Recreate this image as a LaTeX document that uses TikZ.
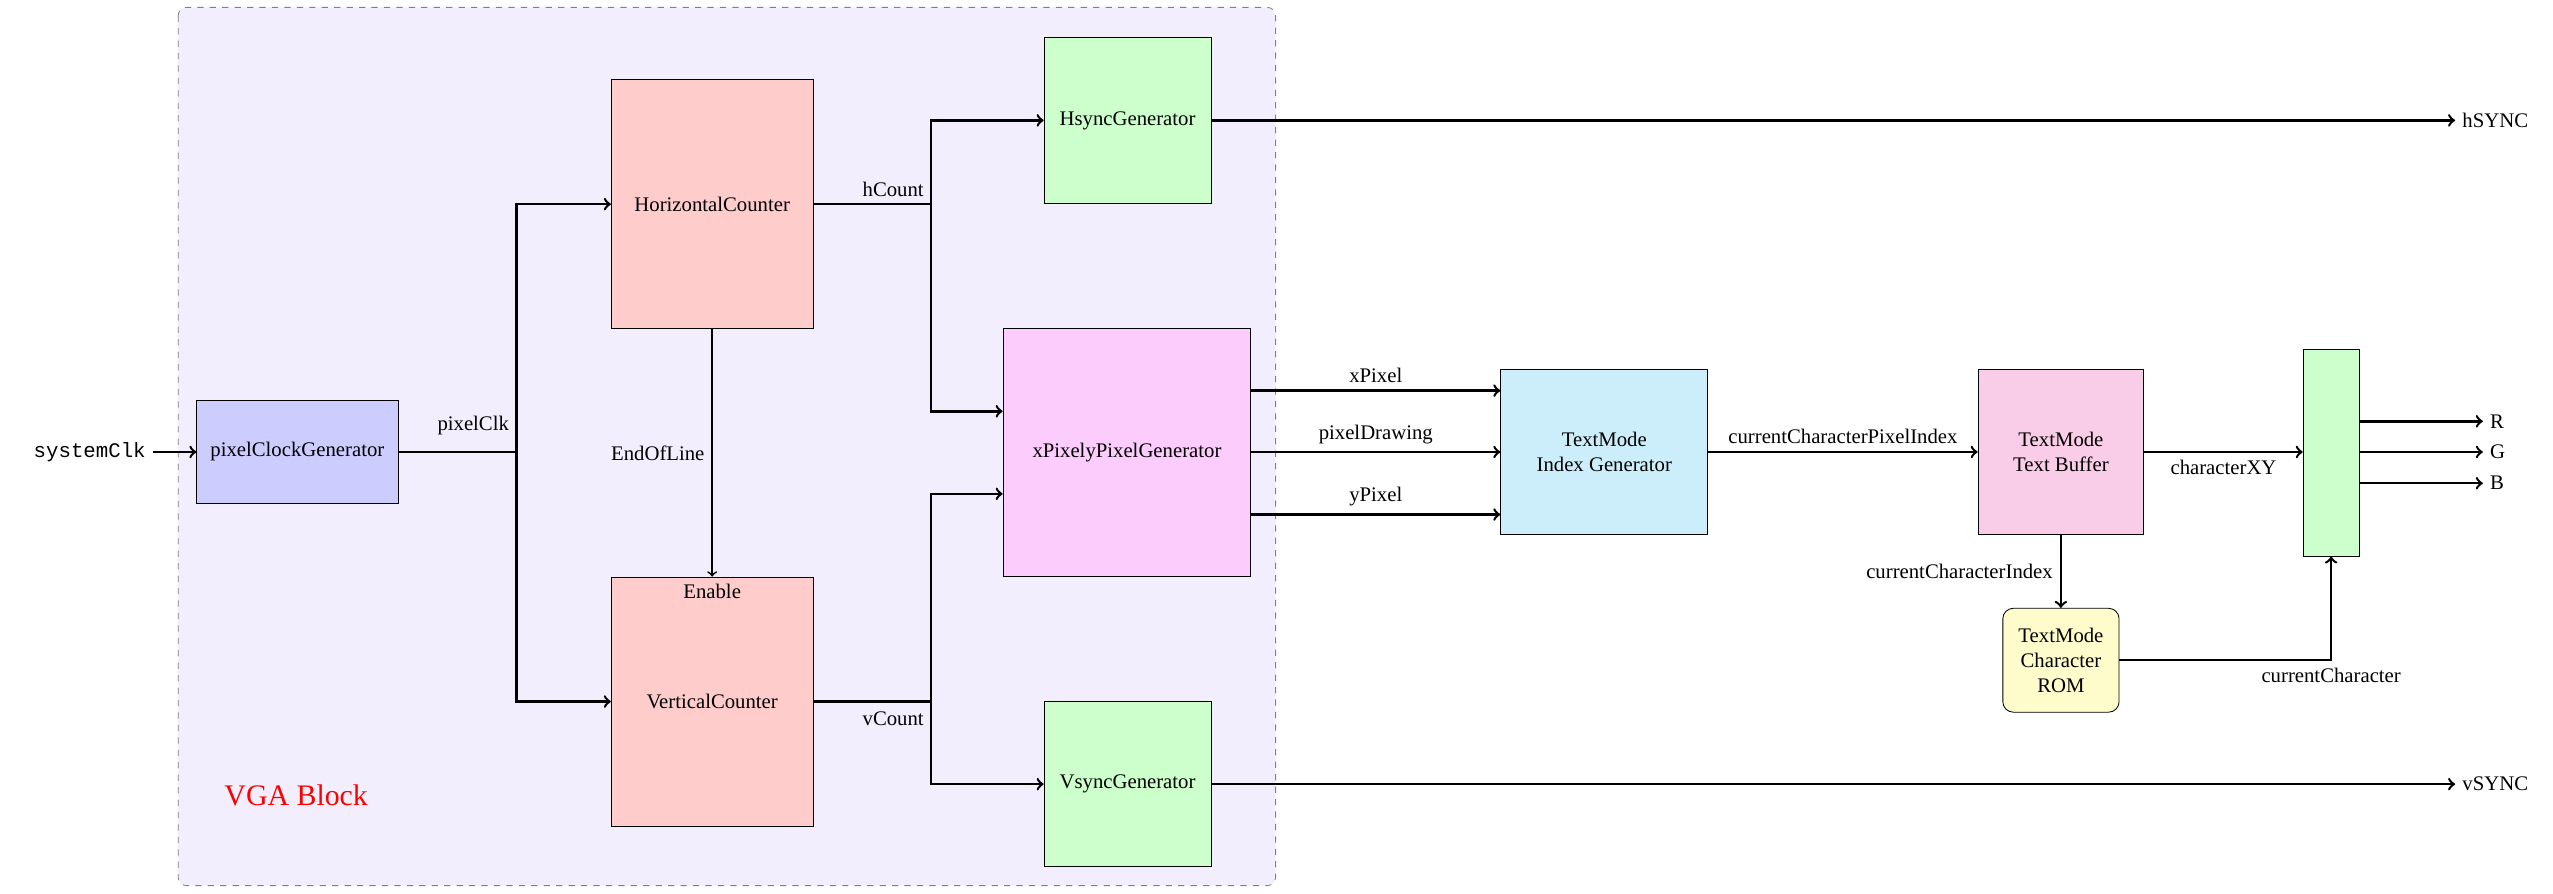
\documentclass[tikz,border=0pt]{standalone}
\usepackage{fontspec}
\setmainfont{Liberation Serif}
\setmonofont{Liberation Mono}

\definecolor{vgaback}{RGB}{242,238,253}
\definecolor{idxblue}{RGB}{204,238,250}
\definecolor{bufpink}{RGB}{249,204,232}
\definecolor{pixmagenta}{RGB}{252,204,252}
\definecolor{romyellow}{RGB}{255,252,204}

\begin{document}
\begin{tikzpicture}[
            block/.style={draw, align=center},
            sig/.style={very thick, ->}
        ]
            \useasboundingbox (0,0) rectangle (43.27,-15.14);
            \fill [vgaback, rounded corners=4pt] (3.02,-0.125) rectangle (21.62,-15.01);
            \draw [gray, dashed, rounded corners=4pt] (3.02,-0.125) rectangle (21.62,-15.01);
            \node [red] (vgaLabel) at (5.02,-13.48) {\Large VGA Block};
            
            \node (sysClk) at (1.52,-7.66) {\ttfamily systemClk};
            \node [block, fill=blue!20, minimum width=3.41cm, minimum height=1.75cm] (pgen) at (5.04,-7.66) {pixelClockGenerator};
            \node [block, fill=red!20, minimum width=3.42cm, minimum height=4.22cm] (hc) at (12.07,-3.46) {HorizontalCounter};
            \node [block, fill=red!20, minimum width=3.42cm, minimum height=4.22cm] (vc) at (12.07,-11.89) {VerticalCounter};
            \node [block, fill=green!20, minimum width=2.83cm, minimum height=2.8cm] (hsync) at (19.11,-2.04) {HsyncGenerator};
            \node [block, fill=green!20, minimum width=2.83cm, minimum height=2.8cm] (vsync) at (19.11,-13.29) {VsyncGenerator};
            \node [block, fill=pixmagenta, minimum width=4.2cm, minimum height=4.2cm] (xpix) at (19.10,-7.67) {xPixelyPixelGenerator};
            \node [block, fill=idxblue, minimum width=3.51cm, minimum height=2.81cm] (idx) at (27.19,-7.66) {TextMode\\Index Generator};
            \node [block, fill=bufpink, minimum width=2.81cm, minimum height=2.81cm] (buf) at (34.93,-7.66) {TextMode\\Text Buffer};
            \node [block, fill=green!20, minimum width=0.95cm, minimum height=3.51cm] (mux) at (39.51,-7.67) {};
            \node [block, fill=romyellow, rounded corners=5pt, minimum width=1.97cm, minimum height=1.76cm] (rom) at (34.93,-11.19) {TextMode\\Character\\ROM};
            
            \node [right] (hsyncOut) at (41.61,-2.04) {hSYNC};
            \node [right] (vsyncOut) at (41.61,-13.29) {vSYNC};
            \node [right] (rOut) at (42.08,-7.14) {R};
            \node [right] (gOut) at (42.08,-7.66) {G};
            \node [right] (bOut) at (42.08,-8.19) {B};
            
            \coordinate (pj) at (8.75,-7.66);
            \coordinate (hj) at (15.78,-3.46);
            \coordinate (vj) at (15.78,-11.89);
            
            % clock
            \draw [sig] (sysClk) -- (pgen);
            \draw [sig] (pgen.east) -- (pj) |- (hc.west);
            \draw [sig] (pj) |- (vc.west);
            \node [above left, yshift=0.17cm] (lpclk) at (pj) {pixelClk};
            
            % counters
            \draw [thick, ->] (hc) -- (vc) node [midway, left] (leol) {EndOfLine};
            \node [below] (lenable) at (vc.north) {Enable};
            \draw [sig] (hc.east) -- (hj) |- (hsync.west);
            \draw [sig] (hj) |- ([yshift=0.7cm]xpix.west);
            \node [above left] (lhcount) at (hj) {hCount};
            \draw [sig] (vc.east) -- (vj) |- (vsync.west);
            \draw [sig] (vj) |- ([yshift=-0.7cm]xpix.west);
            \node [below left, yshift=-0.05cm] (lvcount) at (vj) {vCount};
            
            % sync outputs
            \draw [sig] (hsync.east) -- (hsyncOut);
            \draw [sig] (vsync.east) -- (vsyncOut);
            
            % text mode
            \draw [sig] ([yshift=1.04cm]xpix.east |- idx.west) -- ([yshift=1.04cm]idx.west) node [midway, above] (lxpixel) {xPixel};
            \draw [sig] (xpix.east |- idx.west) -- (idx.west) node [midway, above] (ldraw) {pixelDrawing};
            \draw [sig] ([yshift=-1.06cm]xpix.east |- idx.west) -- ([yshift=-1.06cm]idx.west) node [midway, above] (lypixel) {yPixel};
            \draw [sig] (idx.east) -- (buf.west) node [midway, above] (lcpi) {currentCharacterPixelIndex};
            \draw [sig] (buf.east) -- (buf.east -| mux.west) node [midway, below] (lcxy) {characterXY};
            \draw [sig] (buf) -- (rom) node [midway, left] (lcci) {currentCharacterIndex};
            \draw [sig] (rom.east) -| (mux.south) node [pos=0.5, below] (lcc) {currentCharacter};
            
            \draw [sig] (mux.east |- rOut) -- (rOut);
            \draw [sig] (mux.east |- gOut) -- (gOut);
            \draw [sig] (mux.east |- bOut) -- (bOut);
        \end{tikzpicture}
\end{document}
